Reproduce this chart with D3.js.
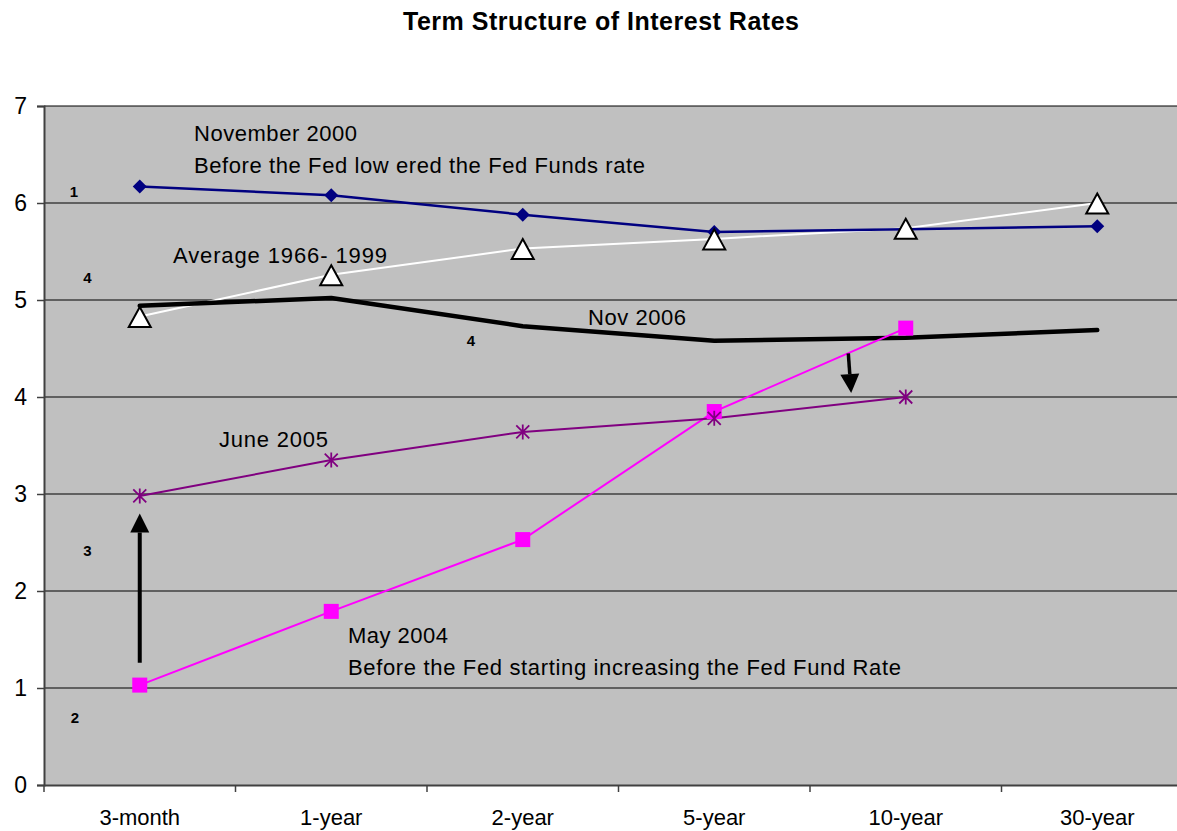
<!DOCTYPE html>
<html>
<head>
<meta charset="utf-8">
<script src="https://cdn.jsdelivr.net/npm/d3@7"></script>
<style>
  html, body { margin: 0; padding: 0; background: #fff; }
  svg { display: block; font-family: "Liberation Sans", Arial, sans-serif; }
</style>
</head>
<body>
<svg id="chart" width="1177" height="831"></svg>
<script>
const categories = ["3-month", "1-year", "2-year", "5-year", "10-year", "30-year"];
const yTicks = [0, 1, 2, 3, 4, 5, 6, 7];
const nov2000 = [6.17, 6.08, 5.88, 5.70, 5.73, 5.76];
const avg1966 = [4.83, 5.26, 5.53, 5.63, 5.74, 6.00];
const nov2006 = [4.94, 5.02, 4.73, 4.58, 4.61, 4.69];
const jun2005 = [2.98, 3.35, 3.64, 3.78, 4.00, null];
const may2004 = [1.03, 1.79, 2.53, 3.85, 4.71, null];

const title = "Term Structure of Interest Rates";
const annotationTexts = ["November 2000", "Before the Fed low ered the Fed Funds rate",
  "Average 1966- 1999", "Nov 2006", "June 2005", "May 2004",
  "Before the Fed starting increasing the Fed Fund Rate"];
const stepLabels = ["1", "4", "4", "3", "2"];

(function () {
const svg = d3.select("#chart");
const pLeft = 44, pTop = 106, pBottom = 785, band = 191.5;

const x = d3.scaleBand().domain(categories).range([pLeft, pLeft + band * categories.length]).padding(0);
const y = d3.scaleLinear().domain([0, 7]).range([pBottom, pTop]);
const cx = c => x(c) + x.bandwidth() / 2;

// plot background
svg.append("rect").attr("x", pLeft).attr("y", pTop)
  .attr("width", x.range()[1] - pLeft).attr("height", pBottom - pTop)
  .attr("fill", "#C0C0C0");

// gridlines
svg.append("g").selectAll("line").data(yTicks.filter(d => d > 0)).join("line")
  .attr("x1", pLeft).attr("x2", x.range()[1])
  .attr("y1", d => y(d)).attr("y2", d => y(d))
  .attr("stroke", "#000").attr("stroke-width", 1);

// y axis
const yAxis = svg.append("g").attr("transform", `translate(${pLeft},0)`)
  .call(d3.axisLeft(y).tickValues(yTicks).tickSize(7).tickPadding(10).tickFormat(d3.format("d")));
yAxis.select(".domain").attr("stroke", "#404040").attr("stroke-width", 2);
yAxis.selectAll(".tick line").attr("stroke", "#404040").attr("stroke-width", 1.5);
yAxis.selectAll(".tick text").attr("font-size", 23).attr("fill", "#000")
  .attr("font-family", "Liberation Sans, Arial, sans-serif");

// x axis
const xAxis = svg.append("g").attr("transform", `translate(0,${pBottom})`)
  .call(d3.axisBottom(x).tickSize(0).tickPadding(24));
xAxis.select(".domain").attr("stroke", "#404040").attr("stroke-width", 2);
xAxis.selectAll(".tick text").attr("font-size", 22).attr("fill", "#000")
  .attr("font-family", "Liberation Sans, Arial, sans-serif");
// category boundary tick marks
svg.append("g").selectAll("line").data(categories).join("line")
  .attr("x1", d => x(d)).attr("x2", d => x(d))
  .attr("y1", pBottom).attr("y2", pBottom + 7)
  .attr("stroke", "#404040").attr("stroke-width", 1.5);

const line = d3.line().defined(d => d.v != null).x(d => cx(d.c)).y(d => y(d.v));
const pts = arr => categories.map((c, i) => ({ c, v: arr[i] }));

// Average 1966-1999 (white line)
svg.append("path").datum(pts(avg1966)).attr("d", line)
  .attr("fill", "none").attr("stroke", "#fff").attr("stroke-width", 2);
// Nov 2006 (thick black)
svg.append("path").datum(pts(nov2006)).attr("d", line)
  .attr("fill", "none").attr("stroke", "#000").attr("stroke-width", 4.5)
  .attr("stroke-linejoin", "round").attr("stroke-linecap", "round");
// Nov 2000 (navy)
svg.append("path").datum(pts(nov2000)).attr("d", line)
  .attr("fill", "none").attr("stroke", "#000080").attr("stroke-width", 2.5);
// May 2004 (magenta)
svg.append("path").datum(pts(may2004)).attr("d", line)
  .attr("fill", "none").attr("stroke", "#FF00FF").attr("stroke-width", 2);
// June 2005 (purple)
svg.append("path").datum(pts(jun2005)).attr("d", line)
  .attr("fill", "none").attr("stroke", "#800080").attr("stroke-width", 2);

// markers
svg.append("g").selectAll("path").data(pts(nov2000)).join("path")
  .attr("transform", d => `translate(${cx(d.c)},${y(d.v)})`)
  .attr("d", "M0,-7L7,0L0,7L-7,0Z").attr("fill", "#000080");

svg.append("g").selectAll("path").data(pts(avg1966)).join("path")
  .attr("transform", d => `translate(${cx(d.c)},${y(d.v)})`)
  .attr("d", "M0,-9.5L11,10.5L-11,10.5Z").attr("fill", "#fff")
  .attr("stroke", "#000").attr("stroke-width", 2).attr("stroke-linejoin", "miter");

svg.append("g").selectAll("rect").data(pts(may2004).filter(d => d.v != null)).join("rect")
  .attr("x", d => cx(d.c) - 7.5).attr("y", d => y(d.v) - 7.5)
  .attr("width", 15).attr("height", 15).attr("fill", "#FF00FF");

svg.append("g").selectAll("path").data(pts(jun2005).filter(d => d.v != null)).join("path")
  .attr("transform", d => `translate(${cx(d.c)},${y(d.v)})`)
  .attr("d", "M-6.5,-6.5L6.5,6.5M6.5,-6.5L-6.5,6.5M0,-7.5L0,7.5")
  .attr("stroke", "#800080").attr("stroke-width", 1.8).attr("fill", "none");

// arrows
function arrow(x0, y0, x1, y1, w) {
  const ang = Math.atan2(y1 - y0, x1 - x0);
  const hl = 19, hw = 9.5;
  const bx = x1 - hl * Math.cos(ang), by = y1 - hl * Math.sin(ang);
  svg.append("line").attr("x1", x0).attr("y1", y0).attr("x2", bx).attr("y2", by)
    .attr("stroke", "#000").attr("stroke-width", w);
  const px = -Math.sin(ang) * hw, py = Math.cos(ang) * hw;
  svg.append("path")
    .attr("d", `M${x1},${y1}L${bx + px},${by + py}L${bx - px},${by - py}Z`)
    .attr("fill", "#000");
}
arrow(cx("3-month"), y(1.26), cx("3-month"), y(2.80), 4);
arrow(x("5-year") + x.bandwidth() * 1.2, y(4.45), x("5-year") + x.bandwidth() * 1.215, y(4.04), 3.5);

// title
svg.append("text").attr("x", 601).attr("y", 30).attr("text-anchor", "middle")
  .attr("font-size", 25).attr("font-weight", "bold").attr("fill", "#000")
  .attr("textLength", 396).attr("lengthAdjust", "spacing").text(title);

// annotations
const annPos = [
  [194, 141, 163], [194, 173, 451], [173, 263, 214], [588, 325, 98],
  [219, 447, 109], [348, 643, 100], [348, 675, 553]
];
svg.append("g").selectAll("text").data(annotationTexts).join("text")
  .attr("x", (d, i) => annPos[i][0]).attr("y", (d, i) => annPos[i][1])
  .attr("textLength", (d, i) => annPos[i][2]).attr("lengthAdjust", "spacing")
  .attr("font-size", 22).attr("fill", "#000").text(d => d);

const stepPos = [[74, 197], [87.5, 283], [471, 346], [87.5, 556], [75, 723]];
svg.append("g").selectAll("text").data(stepLabels).join("text")
  .attr("x", (d, i) => stepPos[i][0]).attr("y", (d, i) => stepPos[i][1])
  .attr("text-anchor", "middle").attr("font-size", 15).attr("font-weight", "bold")
  .attr("fill", "#000").text(d => d);
})();
</script>
</body>
</html>
